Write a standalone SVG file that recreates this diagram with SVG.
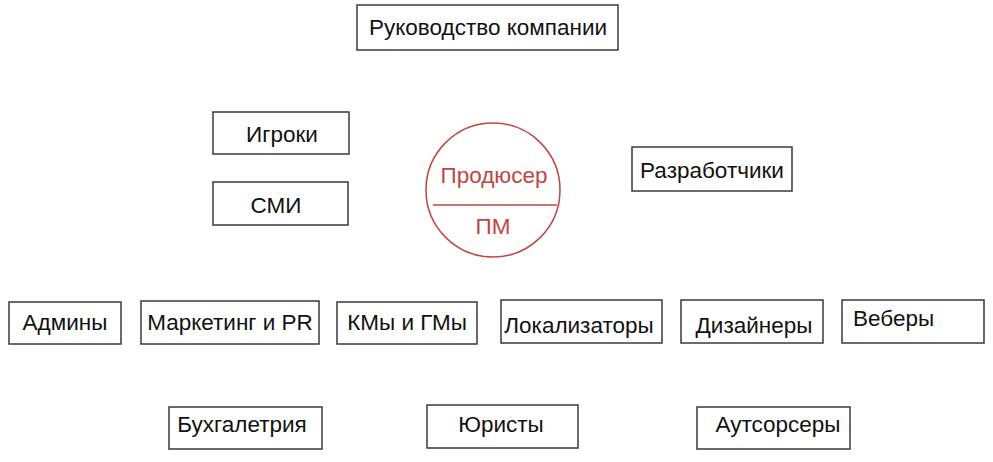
<svg xmlns="http://www.w3.org/2000/svg" width="993" height="462" viewBox="0 0 993 462">
<style>
  .box { fill: #ffffff; stroke: #3a3a3a; stroke-width: 1.5; }
  .lbl { font-family: "Liberation Sans", "Noto Sans", sans-serif; font-size: 22.5px; fill: #111111; text-anchor: middle; }
  .red { stroke: #c4443f; stroke-width: 1.5; fill: none; }
  .rlbl { font-family: "Liberation Sans", "Noto Sans", sans-serif; font-size: 22.5px; fill: #c4443f; text-anchor: middle; }
</style>
<rect width="993" height="462" fill="#ffffff"/>
<g id="connectors"></g>
<g id="rukovodstvo"><rect class="box" x="357" y="5" width="261" height="45"/><text class="lbl" x="488" y="35">Руководство компании</text></g>
<g id="igroki"><rect class="box" x="213" y="112" width="136" height="42"/><text class="lbl" x="282" y="142">Игроки</text></g>
<g id="smi"><rect class="box" x="213" y="182" width="135" height="43"/><text class="lbl" x="276" y="213">СМИ</text></g>
<g id="producer">
  <circle class="red" cx="493" cy="190" r="67"/>
  <line class="red" x1="433" y1="205" x2="557" y2="205"/>
  <text class="rlbl" x="494" y="183">Продюсер</text>
  <text class="rlbl" x="493" y="234">ПМ</text>
</g>
<g id="razrabotchiki"><rect class="box" x="632" y="147" width="160" height="44"/><text class="lbl" x="712" y="178">Разработчики</text></g>
<g id="adminy"><rect class="box" x="9" y="302" width="112" height="42"/><text class="lbl" x="65" y="330">Админы</text></g>
<g id="marketing"><rect class="box" x="141" y="301" width="178" height="43"/><text class="lbl" x="230" y="330">Маркетинг и PR</text></g>
<g id="kmy"><rect class="box" x="337" y="302" width="140" height="42"/><text class="lbl" x="407" y="330">КМы и ГМы</text></g>
<g id="lokalizatory"><rect class="box" x="501" y="300" width="161" height="43"/><text class="lbl" x="579" y="333">Локализаторы</text></g>
<g id="dizainery"><rect class="box" x="681" y="300" width="142" height="43"/><text class="lbl" x="754" y="333">Дизайнеры</text></g>
<g id="vebery"><rect class="box" x="842" y="300" width="142" height="43"/><text class="lbl" x="853" y="326" style="text-anchor:start">Веберы</text></g>
<g id="buhgalteria"><rect class="box" x="169" y="407" width="153" height="42"/><text class="lbl" x="242" y="432">Бухгалетрия</text></g>
<g id="yuristy"><rect class="box" x="427" y="405" width="151" height="43"/><text class="lbl" x="501" y="432">Юристы</text></g>
<g id="autsorsery"><rect class="box" x="697" y="407" width="153" height="42"/><text class="lbl" x="778" y="432">Аутсорсеры</text></g>
</svg>
